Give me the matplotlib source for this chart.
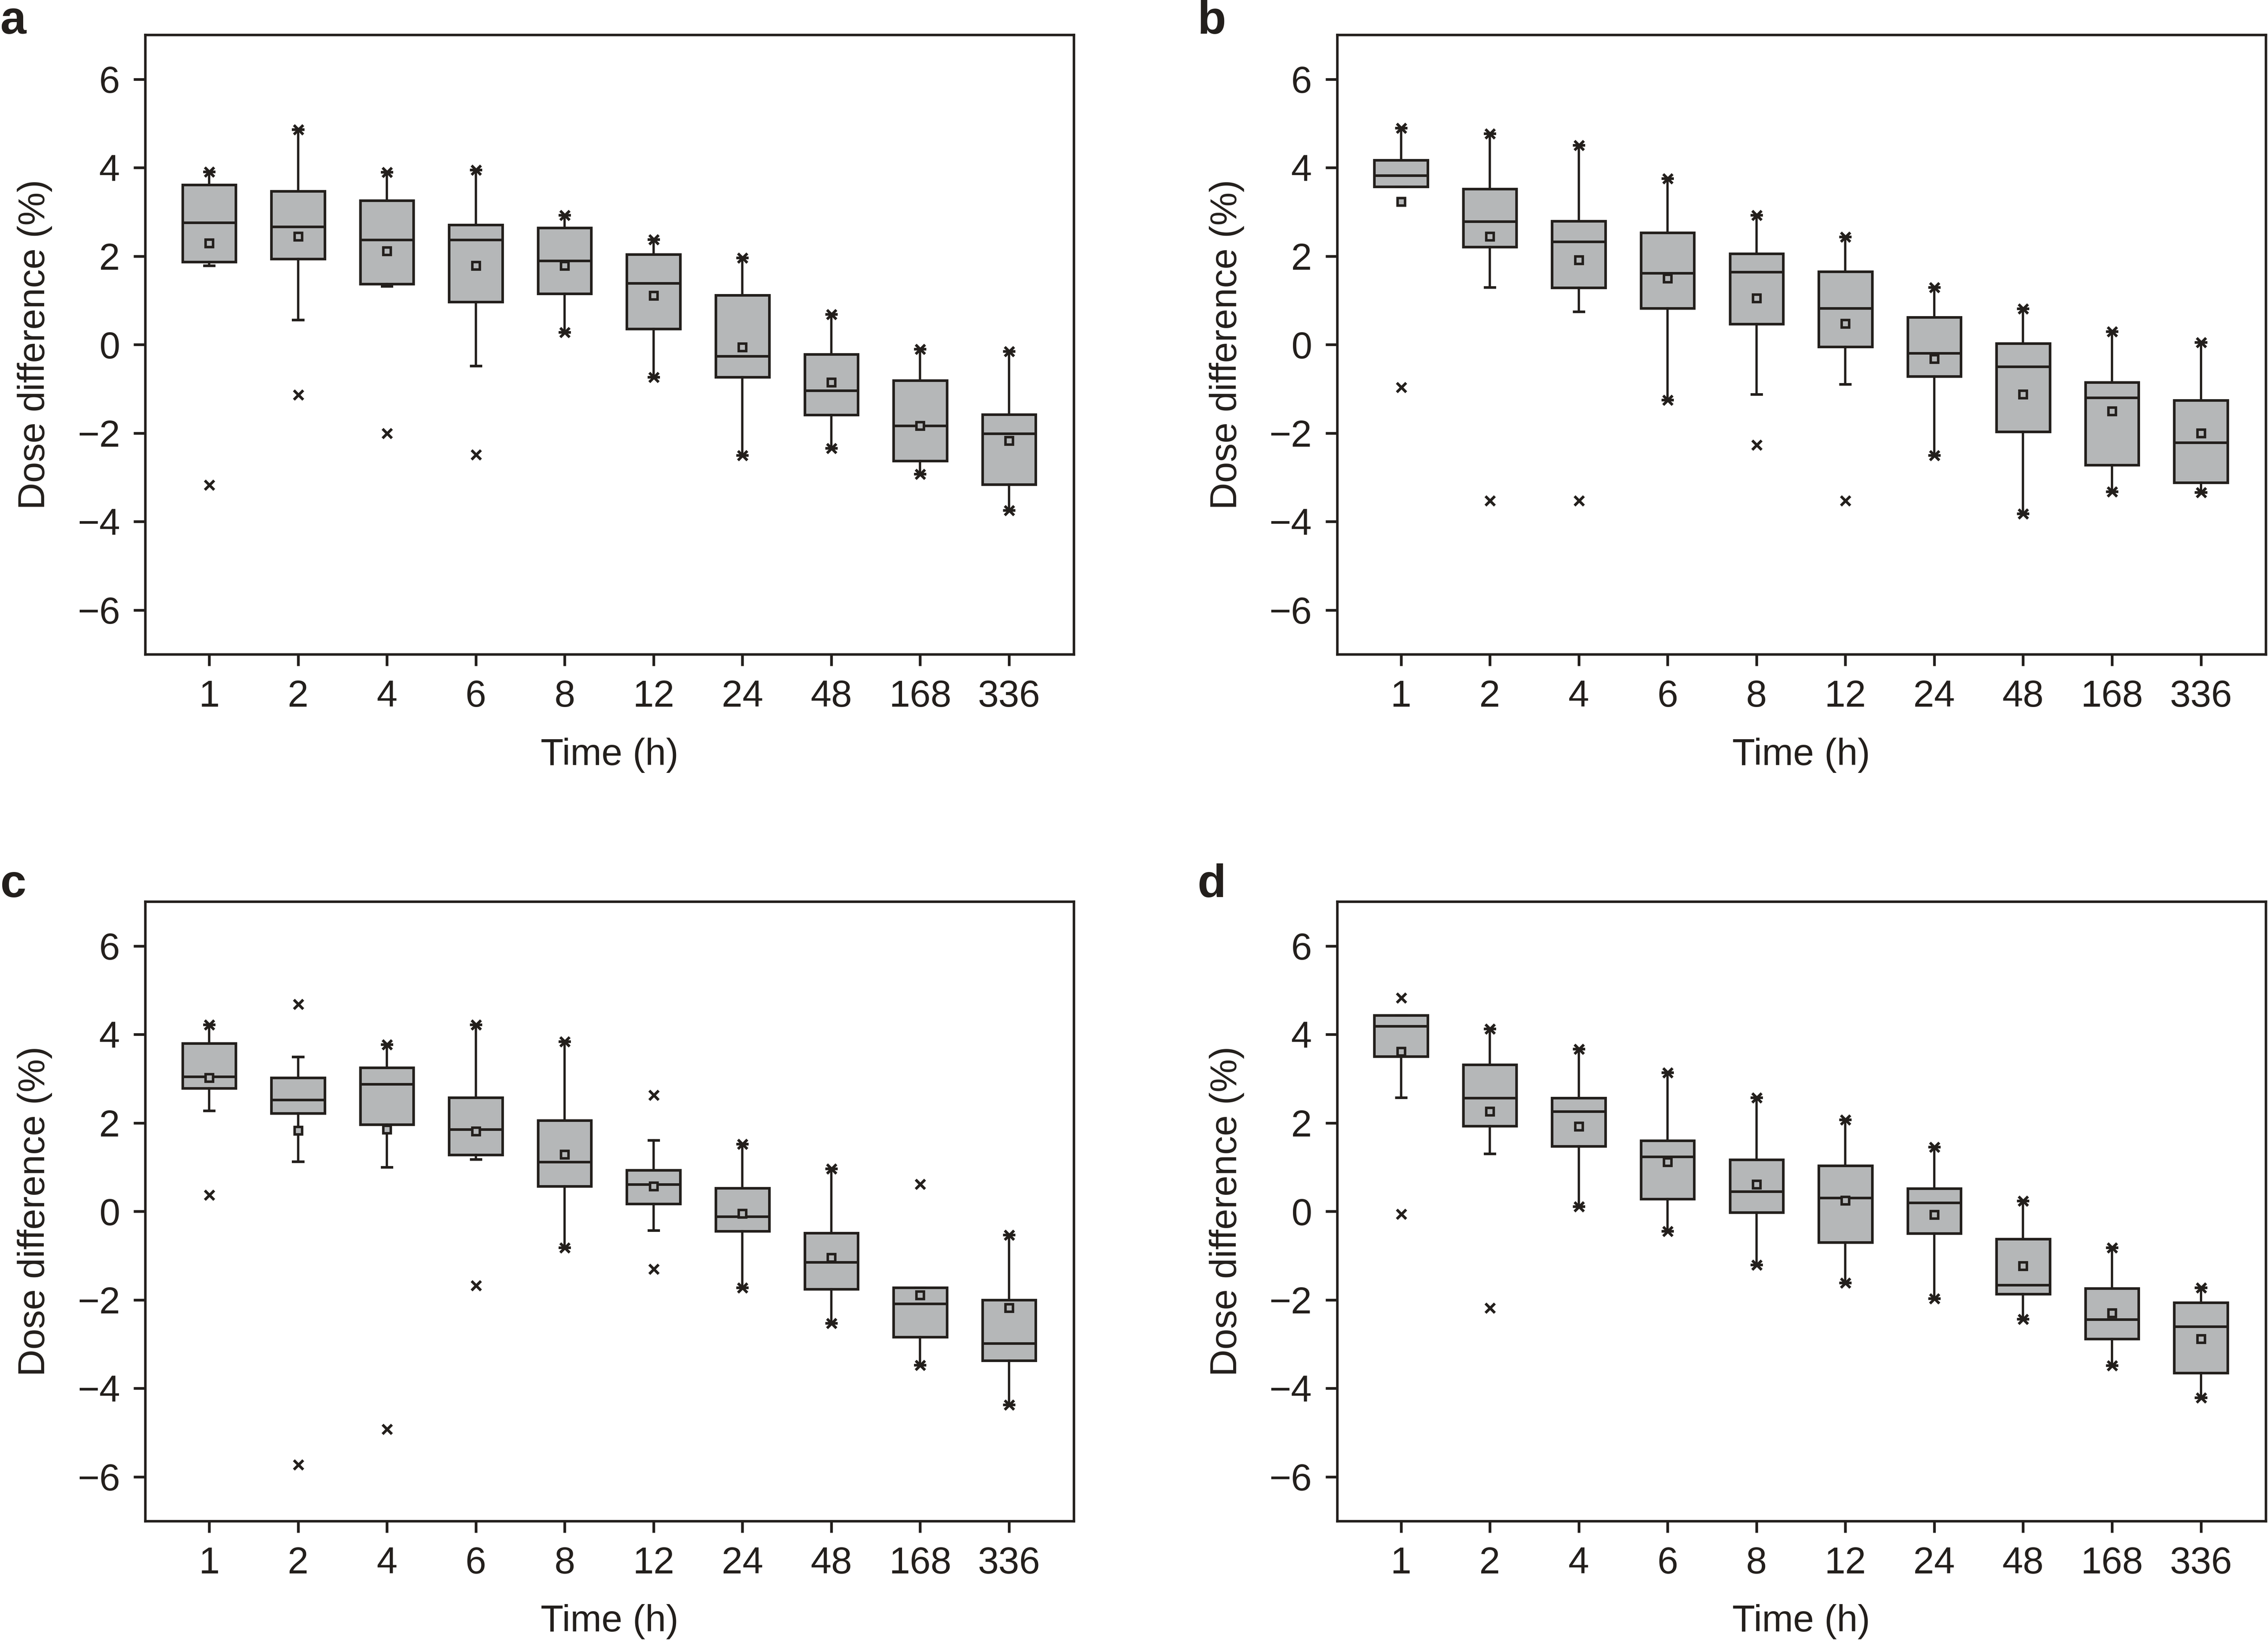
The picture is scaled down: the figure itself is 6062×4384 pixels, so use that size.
import matplotlib
matplotlib.use("Agg")
import matplotlib.pyplot as plt

plt.rcParams['font.family'] = ['Liberation Sans', 'DejaVu Sans']

INK = '#231f1c'
FILL = '#b5b7b8'

time_labels = ['1', '2', '4', '6', '8', '12', '24', '48', '168', '336']

# panel a
a_max = [3.91, 4.86, 3.90, 3.95, 2.93, 2.38, 1.96, 0.69, -0.10, -0.15]
a_whishi = [3.91, 4.86, 3.90, 3.95, 2.93, 2.38, 1.96, 0.69, -0.10, -0.15]
a_q3 = [3.61, 3.47, 3.26, 2.71, 2.64, 2.04, 1.12, -0.22, -0.81, -1.58]
a_med = [2.76, 2.67, 2.37, 2.37, 1.90, 1.39, -0.26, -1.04, -1.83, -2.01]
a_mean = [2.29, 2.45, 2.12, 1.79, 1.79, 1.11, -0.06, -0.85, -1.83, -2.17]
a_q1 = [1.87, 1.94, 1.37, 0.97, 1.15, 0.36, -0.73, -1.59, -2.63, -3.16]
a_whislo = [1.79, 0.56, 1.32, -0.48, 0.28, -0.73, -2.50, -2.34, -2.92, -3.74]
a_min = [-3.17, -1.13, -2.00, -2.48, 0.28, -0.73, -2.50, -2.34, -2.92, -3.74]

# panel b
b_max = [4.90, 4.77, 4.51, 3.76, 2.93, 2.44, 1.30, 0.81, 0.30, 0.05]
b_whishi = [4.90, 4.77, 4.51, 3.76, 2.93, 2.44, 1.30, 0.81, 0.30, 0.05]
b_q3 = [4.17, 3.52, 2.79, 2.53, 2.06, 1.65, 0.62, 0.03, -0.85, -1.26]
b_med = [3.82, 2.78, 2.33, 1.62, 1.64, 0.82, -0.19, -0.50, -1.20, -2.21]
b_mean = [3.23, 2.45, 1.91, 1.50, 1.05, 0.48, -0.32, -1.12, -1.50, -2.00]
b_q1 = [3.57, 2.21, 1.29, 0.82, 0.47, -0.05, -0.72, -1.97, -2.72, -3.12]
b_whislo = [3.57, 1.30, 0.75, -1.25, -1.12, -0.89, -2.50, -3.82, -3.32, -3.34]
b_min = [-0.96, -3.52, -3.52, -1.25, -2.26, -3.52, -2.50, -3.82, -3.32, -3.34]

# panel c
c_max = [4.22, 4.69, 3.77, 4.22, 3.84, 2.63, 1.52, 0.97, 0.62, -0.53]
c_whishi = [4.22, 3.49, 3.77, 4.22, 3.84, 1.61, 1.52, 0.97, -1.72, -0.53]
c_q3 = [3.80, 3.02, 3.25, 2.57, 2.06, 0.93, 0.53, -0.49, -1.72, -2.00]
c_med = [3.05, 2.52, 2.88, 1.85, 1.12, 0.61, -0.12, -1.15, -2.09, -2.98]
c_mean = [3.02, 1.83, 1.85, 1.81, 1.29, 0.57, -0.05, -1.05, -1.89, -2.18]
c_q1 = [2.78, 2.22, 1.96, 1.28, 0.57, 0.17, -0.45, -1.76, -2.84, -3.37]
c_whislo = [2.28, 1.13, 1.00, 1.18, -0.82, -0.43, -1.72, -2.53, -3.47, -4.37]
c_min = [0.37, -5.72, -4.92, -1.67, -0.82, -1.30, -1.72, -2.53, -3.47, -4.37]

# panel d
d_max = [4.83, 4.13, 3.67, 3.14, 2.57, 2.07, 1.46, 0.24, -0.82, -1.72]
d_whishi = [4.43, 4.13, 3.67, 3.14, 2.57, 2.07, 1.46, 0.24, -0.82, -1.72]
d_q3 = [4.43, 3.32, 2.56, 1.60, 1.17, 1.03, 0.52, -0.62, -1.74, -2.06]
d_med = [4.19, 2.56, 2.26, 1.24, 0.45, 0.31, 0.20, -1.66, -2.44, -2.60]
d_mean = [3.61, 2.26, 1.92, 1.12, 0.61, 0.25, -0.07, -1.23, -2.30, -2.88]
d_q1 = [3.50, 1.93, 1.47, 0.28, -0.02, -0.70, -0.50, -1.87, -2.88, -3.65]
d_whislo = [2.57, 1.30, 0.11, -0.45, -1.21, -1.61, -1.97, -2.43, -3.48, -4.21]
d_min = [-0.06, -2.18, 0.11, -0.45, -1.21, -1.61, -1.97, -2.43, -3.48, -4.21]

panels = [
    ('a', [0.064, 0.601, 0.4095, 0.3777], 0.000, 0.9795,
     a_whislo, a_q1, a_med, a_q3, a_whishi, a_mean, a_min, a_max),
    ('b', [0.5895, 0.601, 0.4095, 0.3777], 0.528, 0.9795,
     b_whislo, b_q1, b_med, b_q3, b_whishi, b_mean, b_min, b_max),
    ('c', [0.064, 0.0725, 0.4095, 0.3777], 0.000, 0.453,
     c_whislo, c_q1, c_med, c_q3, c_whishi, c_mean, c_min, c_max),
    ('d', [0.5895, 0.0725, 0.4095, 0.3777], 0.528, 0.453,
     d_whislo, d_q1, d_med, d_q3, d_whishi, d_mean, d_min, d_max),
]

fig = plt.figure(figsize=(6062 / 400, 4384 / 400), dpi=400)

for letter, rect, lx, ly, wlo, q1, med, q3, whi, mean, vmin, vmax in panels:
    ax = fig.add_axes(rect)
    pos = list(range(1, len(time_labels) + 1))
    stats = []
    for i in range(len(time_labels)):
        stats.append(dict(whislo=wlo[i], q1=q1[i], med=med[i], q3=q3[i],
                          whishi=whi[i], mean=mean[i], fliers=[]))
    ax.bxp(stats, positions=pos, widths=0.6, capwidths=0.11,
           patch_artist=True, showmeans=True, showfliers=False,
           boxprops=dict(facecolor=FILL, edgecolor=INK, linewidth=1.25),
           medianprops=dict(color=INK, linewidth=1.25),
           whiskerprops=dict(color=INK, linewidth=1.1),
           capprops=dict(color=INK, linewidth=1.25),
           meanprops=dict(marker='s', markersize=3.6, markerfacecolor=FILL,
                          markeredgecolor=INK, markeredgewidth=1.2))
    ax.plot(pos, vmax, linestyle='none', marker='x', markersize=4.5,
            markeredgewidth=1.3, color=INK, zorder=5)
    ax.plot(pos, vmin, linestyle='none', marker='x', markersize=4.5,
            markeredgewidth=1.3, color=INK, zorder=5)

    ax.set_xlim(0.28, 10.73)
    ax.set_ylim(-7, 7)
    ax.set_yticks([-6, -4, -2, 0, 2, 4, 6])
    ax.set_xticks(pos)
    ax.set_xticklabels(time_labels)
    ax.tick_params(direction='out', length=5.6, width=1.3, pad=6.5,
                   labelsize=18, colors=INK, top=False, right=False)
    for sp in ax.spines.values():
        sp.set_linewidth(1.2)
        sp.set_color(INK)
    ax.set_xlabel('Time (h)', fontsize=18, color=INK, labelpad=11)
    ax.set_ylabel('Dose difference (%)', fontsize=18, color=INK, labelpad=12)

    fig.text(lx, ly, letter, fontsize=22.5, fontweight='bold', color=INK,
             ha='left', va='baseline')

fig.savefig('out.png', dpi=400, facecolor='white')
